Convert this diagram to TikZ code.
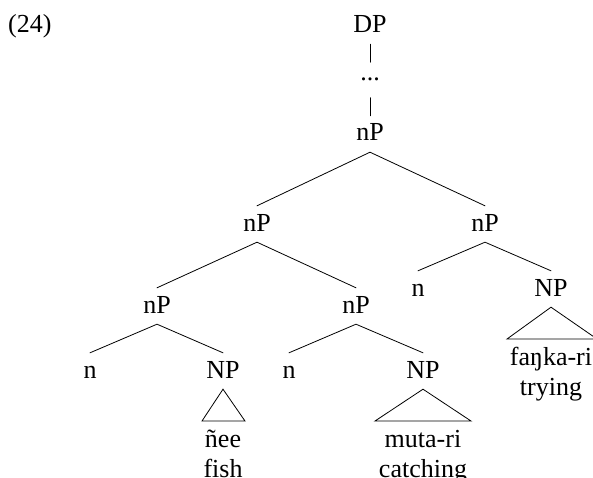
\documentclass[tikz,border=0pt]{standalone}
\usepackage{fontspec}
\setmainfont{Liberation Serif}
\begin{document}
\begin{tikzpicture}[x=1pt,y=1pt,
  every node/.style={font=\fontsize{26}{30}\selectfont},
  cat/.style={inner xsep=0pt, inner ysep=7pt, text height=18pt, text depth=4pt, anchor=base},
  dotsnode/.style={inner xsep=0pt, inner ysep=7pt, text height=11pt, text depth=10pt, anchor=base},
  word/.style={inner sep=0pt, anchor=base},
  branch/.style={line width=0.8pt, line cap=round},
  roof/.style={line width=0.8pt, line join=miter}]
\useasboundingbox (0,0) rectangle (593,-478);
\node[word, anchor=base west] (ex) at (8,-33) {(24)};
\node[cat] (DP) at (370,-33) {DP};
\node[dotsnode] (dots) at (370,-80.5) {...};
\node[cat] (nP0) at (370,-141) {nP};
\node[cat] (nP1) at (257,-231) {nP};
\node[cat] (nP2) at (485,-231) {nP};
\node[cat] (nP3) at (157,-313) {nP};
\node[cat] (nP4) at (356,-313) {nP};
\node[cat] (n5) at (418,-296) {n};
\node[cat] (NP6) at (551,-296) {NP};
\node[cat] (n7) at (90,-378) {n};
\node[cat] (NP8) at (223,-378) {NP};
\node[cat] (n9) at (289,-378) {n};
\node[cat] (NP10) at (423,-378) {NP};
\node[word] (w1) at (223,-447) {ñee};
\node[word] (g1) at (223,-477) {fish};
\node[word] (w2) at (423,-447) {muta-ri};
\node[word] (g2) at (423,-477) {catching};
\node[word] (w3) at (551,-365) {faŋka-ri};
\node[word] (g3) at (551,-395) {trying};
\coordinate (t1l) at (202,-421);
\coordinate (t1r) at (245,-421);
\coordinate (t2l) at (375,-421);
\coordinate (t2r) at (471,-421);
\coordinate (t3l) at (507,-339);
\coordinate (t3r) at (597,-339);
\draw[branch] (DP.south) -- (dots.north);
\draw[branch] (dots.south) -- (nP0.north);
\draw[branch] (nP1.north) -- (nP0.south) -- (nP2.north);
\draw[branch] (nP3.north) -- (nP1.south) -- (nP4.north);
\draw[branch] (n5.north) -- (nP2.south) -- (NP6.north);
\draw[branch] (n7.north) -- (nP3.south) -- (NP8.north);
\draw[branch] (n9.north) -- (nP4.south) -- (NP10.north);
\draw[roof] (NP8.south) -- (t1l) -- (t1r) -- cycle;
\draw[roof] (NP10.south) -- (t2l) -- (t2r) -- cycle;
\draw[roof] (NP6.south) -- (t3l) -- (t3r) -- cycle;
\end{tikzpicture}
\end{document}
